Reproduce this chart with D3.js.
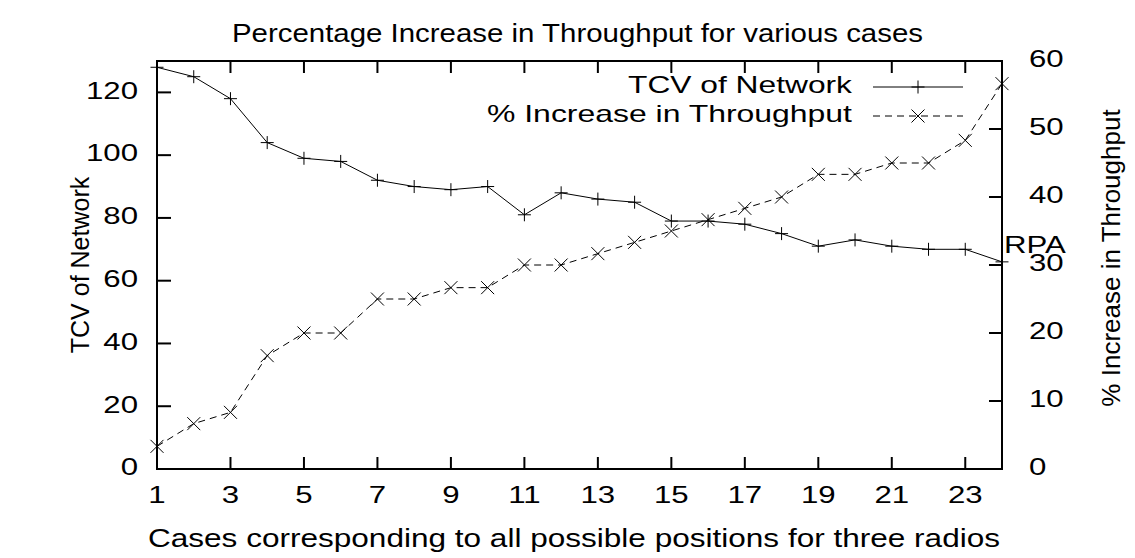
<!DOCTYPE html>
<html>
<head>
<meta charset="utf-8">
<script src="https://cdn.jsdelivr.net/npm/d3@7"></script>
<style>
  body { margin: 0; background: #fff; }
  text { font-family: "Liberation Sans", Arial, sans-serif; fill: #000; }
</style>
</head>
<body>
<div id="viz"></div>
<script>
"use strict";

const w = 1135;
const h = 558;

// data
const cases = d3.range(1, 25);
const tcv = [128, 125, 118, 104, 99, 98, 92, 90, 89, 90, 81, 88, 86, 85, 79, 79, 78, 75, 71, 73, 71, 70, 70, 66];
const pctIncrease = [3.33, 6.67, 8.33, 16.67, 20, 20, 25, 25, 26.67, 26.67, 30, 30, 31.67, 33.33, 35, 36.67, 38.33, 40, 43.33, 43.33, 45, 45, 48.33, 56.67];
const xTicks = [1, 3, 5, 7, 9, 11, 13, 15, 17, 19, 21, 23];
const yLeftTicks = [0, 20, 40, 60, 80, 100, 120];
const yRightTicks = [0, 10, 20, 30, 40, 50, 60];
const seriesNames = ["TCV of Network", "% Increase in Throughput"];

const pLeft = 157, pRight = 1002, pTop = 61, pBottom = 469;

const svg = d3.select("#viz")
  .append("svg")
  .attr("width", w)
  .attr("height", h)

const x = d3.scaleLinear().domain([1, 24]).range([pLeft, pRight])
const yL = d3.scaleLinear().domain([0, 130]).range([pBottom, pTop])
const yR = d3.scaleLinear().domain([0, 60]).range([pBottom, pTop])

const fs = 24
const sx = 1.3   // the reference text is drawn wide

// horizontal text, stretched like the reference
function label(px, py, str, anchor, size) {
  return svg.append("text")
    .attr("transform", `translate(${px},${py}) scale(${sx},1)`)
    .attr("text-anchor", anchor || "start")
    .attr("dominant-baseline", "middle")
    .style("font-size", (size || fs) + "px")
    .text(str)
}

// ticks (inward, gnuplot style) and labels
const axes = svg.append("g").attr("stroke", "#000").attr("stroke-width", 2)

xTicks.forEach((t) => {
  axes.append("line").attr("x1", x(t)).attr("x2", x(t)).attr("y1", pBottom).attr("y2", pBottom - 12)
  axes.append("line").attr("x1", x(t)).attr("x2", x(t)).attr("y1", pTop).attr("y2", pTop + 12)
  label(x(t), pBottom + 28, t, "middle")
})

yLeftTicks.forEach((t) => {
  axes.append("line").attr("x1", pLeft).attr("x2", pLeft + 14).attr("y1", yL(t)).attr("y2", yL(t))
  label(138, yL(t), t, "end")
})

yRightTicks.forEach((t) => {
  axes.append("line").attr("x1", pRight).attr("x2", pRight - 13).attr("y1", yR(t)).attr("y2", yR(t))
  label(1029, yR(t), t, "start")
})

svg.append("rect")
  .attr("x", pLeft).attr("y", pTop)
  .attr("width", pRight - pLeft).attr("height", pBottom - pTop)
  .attr("fill", "none").attr("stroke", "#000").attr("stroke-width", 2)

// titles
svg.append("text")
  .attr("x", 232).attr("y", 42)
  .attr("textLength", 691).attr("lengthAdjust", "spacingAndGlyphs")
  .style("font-size", "25px")
  .text("Percentage Increase in Throughput for various cases")

svg.append("text")
  .attr("x", 148).attr("y", 547)
  .attr("textLength", 852).attr("lengthAdjust", "spacingAndGlyphs")
  .style("font-size", "25px")
  .text("Cases corresponding to all possible positions for three radios")

svg.append("text")
  .attr("transform", "translate(89,265) rotate(-90)")
  .attr("text-anchor", "middle")
  .style("font-size", "25px")
  .text(seriesNames[0])

svg.append("text")
  .attr("transform", "translate(1120,258) rotate(-90)")
  .attr("text-anchor", "middle")
  .style("font-size", "26px")
  .text(seriesNames[1])

svg.append("text")
  .attr("transform", `translate(1004,253) scale(${sx},1)`)
  .style("font-size", fs + "px")
  .text("RPA")

// series
const lineL = d3.line().x((d, i) => x(cases[i])).y((d) => yL(d))
const lineR = d3.line().x((d, i) => x(cases[i])).y((d) => yR(d))

const ms = 6.5
const plus = (g, px, py) => {
  g.append("path").attr("d", `M${px - ms},${py}H${px + ms}M${px},${py - ms}V${py + ms}`)
}
const cross = (g, px, py) => {
  g.append("path").attr("d", `M${px - ms},${py - ms}L${px + ms},${py + ms}M${px - ms},${py + ms}L${px + ms},${py - ms}`)
}

const s1 = svg.append("g").attr("stroke", "#000").attr("stroke-width", 1).attr("fill", "none")
s1.append("path").attr("d", lineL(tcv))
tcv.forEach((d, i) => plus(s1, x(cases[i]), yL(d)))

const s2 = svg.append("g").attr("stroke", "#000").attr("stroke-width", 1).attr("fill", "none")
s2.append("path").attr("d", lineR(pctIncrease)).attr("stroke-dasharray", "7,5")
pctIncrease.forEach((d, i) => cross(s2, x(cases[i]), yR(d)))

// legend
const legY = [87, 116]
const legStart = [628, 487]
legY.forEach((ly, i) => {
  svg.append("text")
    .attr("x", legStart[i]).attr("y", ly)
    .attr("textLength", 852 - legStart[i]).attr("lengthAdjust", "spacingAndGlyphs")
    .attr("dominant-baseline", "middle")
    .style("font-size", fs + "px")
    .text(seriesNames[i])
  const g = svg.append("g").attr("stroke", "#000").attr("stroke-width", 1).attr("fill", "none")
  const ln = g.append("line").attr("x1", 873).attr("x2", 963).attr("y1", ly).attr("y2", ly)
  if (i === 1) {
    ln.attr("stroke-dasharray", "7,5")
    cross(g, 918, ly)
  } else {
    plus(g, 918, ly)
  }
})
</script>
</body>
</html>
